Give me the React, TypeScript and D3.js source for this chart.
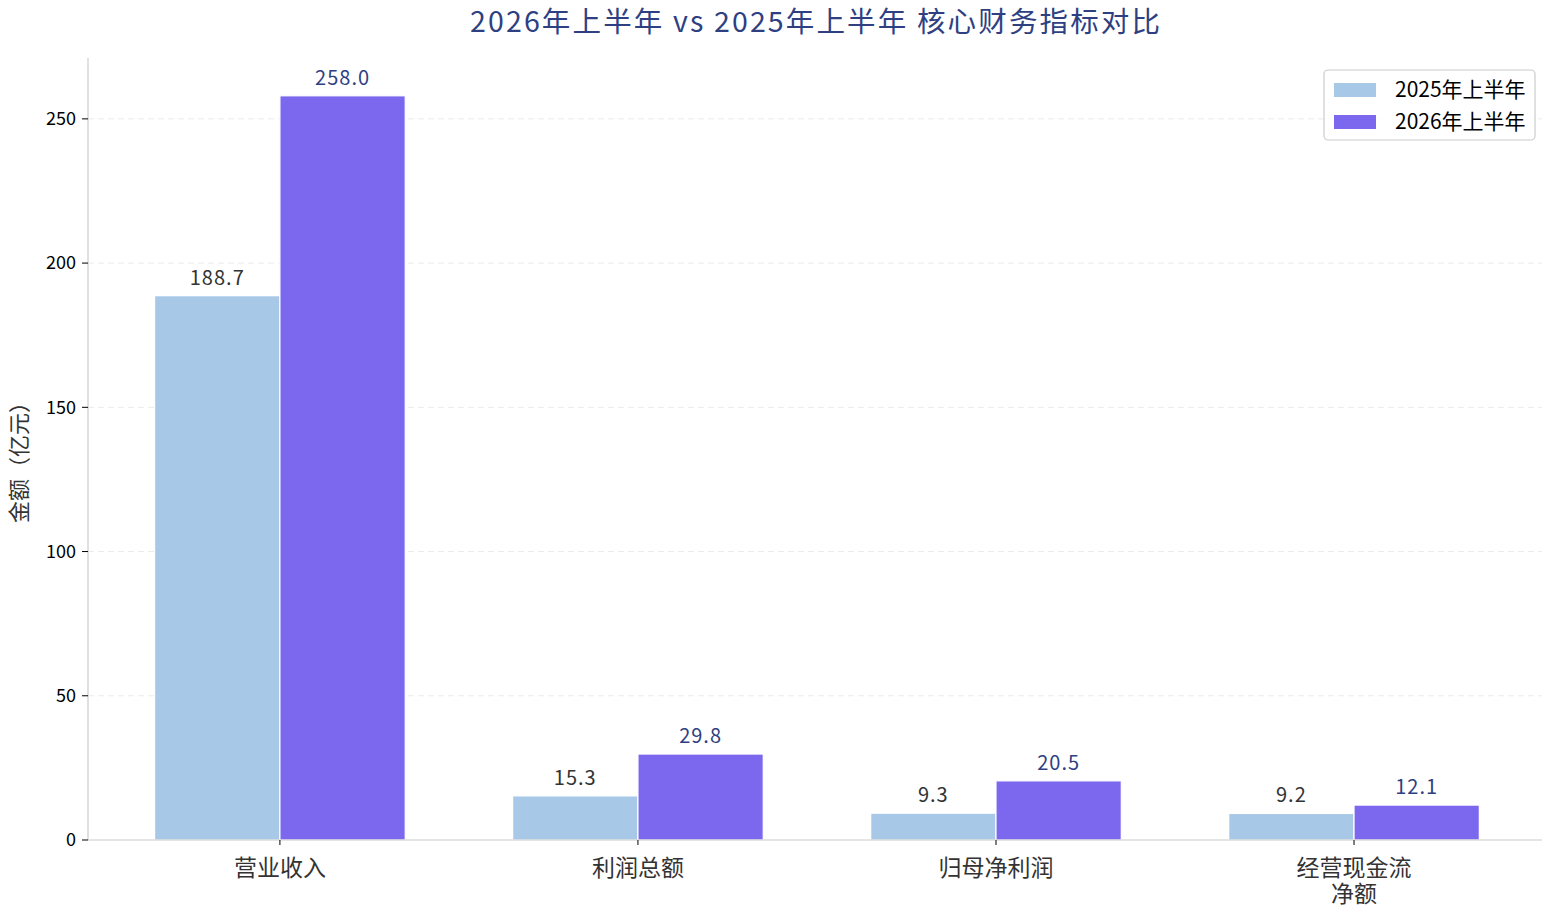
import React from "react";
import * as d3 from "d3";

const categories: string[][] = [["营业收入"], ["利润总额"], ["归母净利润"], ["经营现金流", "净额"]];
const series2025: number[] = [188.7, 15.3, 9.3, 9.2];
const series2026: number[] = [258.0, 29.8, 20.5, 12.1];
const seriesNames: string[] = ["2025年上半年", "2026年上半年"];
const yTicks: number[] = [0, 50, 100, 150, 200, 250];
const title = "2026年上半年 vs 2025年上半年 核心财务指标对比";
const yLabel = "金额（亿元）";

const W = 1542;
const H = 910;
const FONT = "'Noto Sans CJK SC', 'Noto Sans', sans-serif";
const C1 = "#a8c8e8";
const C2 = "#7b68ee";

export default function App() {
  const left = 88, right = 1542, top = 58, bottom = 840;
  const x = d3.scaleLinear().domain([-0.536, 3.525]).range([left, right]);
  const y = d3.scaleLinear().domain([0, 271.1]).range([bottom, top]);
  const bw = 0.35;
  const series = [series2025, series2026];
  const colors = [C1, C2];
  const labelColors = ["#333333", "#2e3f82"];

  return (
    <svg width={W} height={H} style={{ position: "absolute", left: 0, top: 0, background: "#fff" }} fontFamily={FONT}>
      <text x={(left + right) / 2} y={32} textAnchor="middle" fontSize={28.5} fill="#2e3f82" textLength={690} lengthAdjust="spacing">{title}</text>
      {/* grid */}
      {yTicks.filter((t) => t > 0).map((t) => (
        <line key={"g" + t} x1={left} x2={right} y1={y(t)} y2={y(t)} stroke="#ebebeb" strokeWidth={1} strokeDasharray="6,4" />
      ))}
      {/* bars */}
      {series.map((s, si) =>
        s.map((v, i) => {
          const x0 = si === 0 ? x(i - bw) : x(i);
          const x1 = si === 0 ? x(i) : x(i + bw);
          return (
            <rect key={`b${si}-${i}`} x={x0} y={y(v)} width={x1 - x0} height={y(0) - y(v)} fill={colors[si]} stroke="#ffffff" strokeWidth={1.2} />
          );
        })
      )}
      {/* value labels */}
      {series.map((s, si) =>
        s.map((v, i) => (
          <text key={`l${si}-${i}`} x={x(si === 0 ? i - bw / 2 : i + bw / 2)} y={y(v) - 11} textAnchor="middle" fontSize={20} letterSpacing={1} fill={labelColors[si]}>
            {v.toFixed(1)}
          </text>
        ))
      )}
      {/* spines */}
      <line x1={left} x2={left} y1={top} y2={bottom} stroke="#cccccc" strokeWidth={1.2} />
      <line x1={left} x2={right} y1={bottom} y2={bottom} stroke="#cccccc" strokeWidth={1.2} />
      {/* y ticks */}
      {yTicks.map((t) => (
        <g key={"t" + t}>
          <line x1={left - 6} x2={left} y1={y(t)} y2={y(t)} stroke="#000" strokeWidth={1} />
          <text x={left - 12} y={y(t)} dy="0.35em" textAnchor="end" fontSize={18} fill="#000">{t}</text>
        </g>
      ))}
      {/* x ticks */}
      {categories.map((c, i) => (
        <g key={"c" + i}>
          <line x1={x(i)} x2={x(i)} y1={bottom} y2={bottom + 5} stroke="#000" strokeWidth={1} />
          <text x={x(i)} y={bottom + 36} textAnchor="middle" fontSize={23} fill="#333">
            {c.map((ln, k) => (
              <tspan key={k} x={x(i)} dy={k === 0 ? 0 : 26}>{ln}</tspan>
            ))}
          </text>
        </g>
      ))}
      <text transform={`translate(27, ${(top + bottom) / 2 + 8}) rotate(-90)`} textAnchor="middle" fontSize={22} fill="#333">{yLabel}</text>
      {/* legend */}
      <g>
        <rect x={1324} y={70} width={211} height={70} rx={4} fill="#fff" fillOpacity={0.85} stroke="#cccccc" strokeWidth={1.2} />
        {seriesNames.map((n, i) => (
          <g key={n}>
            <rect x={1334} y={83 + i * 32} width={42} height={14} fill={colors[i]} />
            <text x={1395} y={90 + i * 32} dy="0.35em" fontSize={21} fill="#000">{n}</text>
          </g>
        ))}
      </g>
    </svg>
  );
}
